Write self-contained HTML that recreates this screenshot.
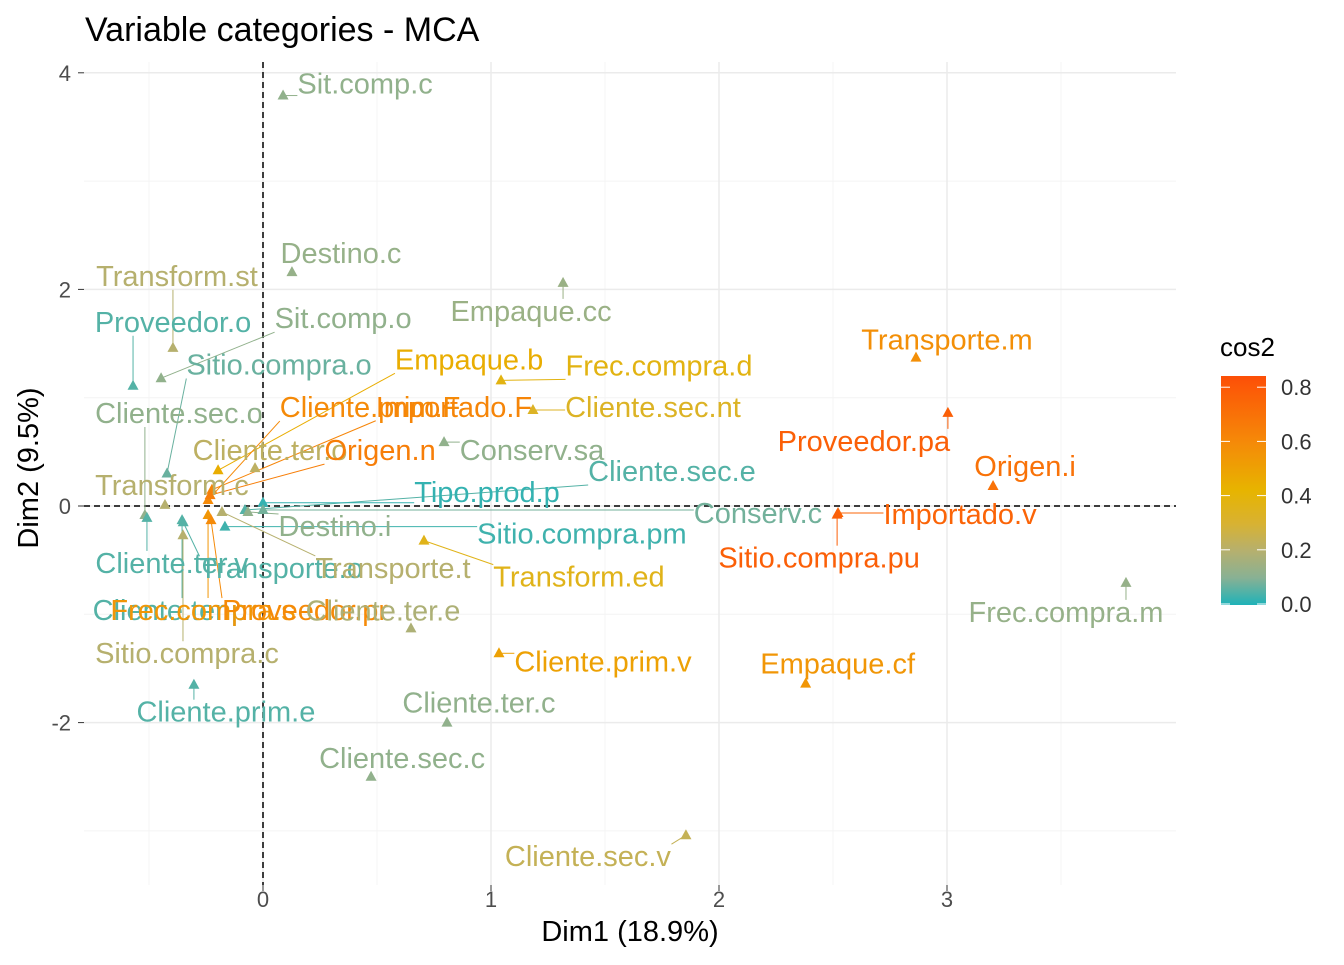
<!DOCTYPE html>
<html><head><meta charset="utf-8"><style>
body{margin:0;background:#fff;}
svg{font-family:"Liberation Sans",sans-serif;}
</style></head><body>
<svg id="chart" width="1344" height="960">
<defs><linearGradient id="lg" x1="0" y1="1" x2="0" y2="0">
<stop offset="0" stop-color="#1FB2B8"/><stop offset="0.118" stop-color="#88B194"/><stop offset="0.237" stop-color="#B6B06E"/><stop offset="0.355" stop-color="#D8B232"/><stop offset="0.5" stop-color="#E7B400"/><stop offset="0.71" stop-color="#F58A08"/><stop offset="0.947" stop-color="#FC5A07"/><stop offset="1" stop-color="#FC4E07"/>
</linearGradient></defs>
<g id="grid"></g><g id="segs"></g><g id="pts"></g><g id="labs"></g><g id="axes"></g>
<text x="85" y="41" font-size="34" fill="#000">Variable categories - MCA</text>
<text x="630" y="941" font-size="29" text-anchor="middle">Dim1 (18.9%)</text>
<text transform="translate(38,468) rotate(-90)" font-size="29" text-anchor="middle">Dim2 (9.5%)</text>
<g>
<text x="1220" y="356" font-size="26">cos2</text>
<rect x="1221" y="376" width="45" height="229" fill="url(#lg)"/>
<g id="legticks"></g>
</g>
</svg>
<script>
const names=["Sit.comp.c","Destino.c","Transform.st","Empaque.cc","Proveedor.o","Sit.comp.o","Sitio.compra.o","Empaque.b","Frec.compra.d","Cliente.prim.F","Importado.F","Cliente.sec.nt","Cliente.sec.o","Cliente.ter.o","Origen.n","Conserv.sa","Cliente.sec.e","Transform.c","Tipo.prod.p","Conserv.c","Destino.i","Sitio.compra.pm","Cliente.ter.v","Transporte.o","Transporte.t","Transform.ed","Cliente.ter.p","Frec.compra.s","Proveedor.pr","Cliente.ter.e","Sitio.compra.c","Cliente.prim.e","Cliente.ter.c","Cliente.sec.c","Cliente.sec.v","Cliente.prim.v","Empaque.cf","Frec.compra.m","Transporte.m","Proveedor.pa","Origen.i","Importado.v","Sitio.compra.pu"];
const dim1=[0.088,0.127,-0.395,1.316,-0.570,-0.447,-0.421,-0.197,1.044,-0.241,-0.224,1.184,-0.518,-0.035,-0.232,0.794,-0.079,-0.430,0.0,0.0,-0.066,-0.167,-0.509,-0.350,-0.180,0.706,-0.355,-0.241,-0.228,0.649,-0.351,-0.303,0.807,0.474,1.855,1.035,2.380,3.785,2.864,3.004,3.202,2.522,2.518];
const dim2=[3.79,2.16,1.46,2.06,1.11,1.18,0.30,0.33,1.16,0.055,0.15,0.886,-0.083,0.35,0.10,0.59,-0.037,0.01,0.03,-0.037,-0.055,-0.19,-0.11,-0.15,-0.055,-0.32,-0.13,-0.083,-0.13,-1.13,-0.27,-1.65,-2.00,-2.50,-3.04,-1.36,-1.64,-0.71,1.37,0.86,0.185,-0.065,-0.08];
const cos2=[0.12,0.13,0.2,0.14,0.05,0.12,0.07,0.45,0.38,0.6,0.62,0.33,0.12,0.22,0.65,0.12,0.05,0.2,0.02,0.08,0.12,0.03,0.05,0.05,0.2,0.36,0.05,0.55,0.6,0.18,0.2,0.05,0.12,0.12,0.24,0.5,0.55,0.13,0.58,0.78,0.7,0.76,0.78];
const xTicks=[0,1,2,3], yTicks=[-2,0,2,4], legTicks=[0,0.2,0.4,0.6,0.8];
const stopVals=[0,0.1,0.2,0.3,0.42,0.6,0.8,0.844];
const stopCols=[[31,178,184],[136,177,148],[182,176,110],[216,178,50],[231,180,0],[245,138,8],[252,90,7],[252,78,7]];
// label layout offsets (px) — repel placement
const ldx=[82,49,4,-32,40,182,112,251,158,162,242,120,34,15,170,88,427,7,224,495,87,357,25,98,171,155,-12,-5,94,-28,4,32,32,31,-98,104,32,-60,31,-84,32,122,-18];
const ldy=[-12,-19,-72,28,-64,-60,-109,-111,-15,-93,-83,-3,-102,-18,-45,8,-39,-20,-11,3,14,7,45,46,56,36,90,95,90,-18,118,27,-20,-19,21,8,-20,29,-18,28,-20,1,43];
const X=v=>263+v*228, Y=v=>506-v*108.3;
const NS="http://www.w3.org/2000/svg";
function mk(t,a,p){const e=document.createElementNS(NS,t);for(const k in a)e.setAttribute(k,a[k]);p.appendChild(e);return e;}
function col(c){c=Math.max(0,Math.min(c,0.844));let i=0;while(i<stopVals.length-2&&c>stopVals[i+1])i++;
const t=(c-stopVals[i])/(stopVals[i+1]-stopVals[i]);const a=stopCols[i],b=stopCols[i+1];
const r=a.map((v,k)=>Math.round(v+(b[k]-v)*t));return`rgb(${r[0]},${r[1]},${r[2]})`;}
const grid=document.getElementById('grid');
[-0.5,0.5,1.5,2.5,3.5].forEach(v=>{const l=mk('line',{x1:X(v),x2:X(v),y1:62,y2:885,stroke:'#F4F4F4','stroke-width':1},grid);});
[-3,-1,1,3].forEach(v=>{const l=mk('line',{x1:84,x2:1176,y1:Y(v),y2:Y(v),stroke:'#F4F4F4','stroke-width':1},grid);});
const axes=document.getElementById('axes');
xTicks.forEach(v=>{const l=mk('line',{x1:X(v),x2:X(v),y1:62,y2:885,stroke:'#EBEBEB','stroke-width':1.5},grid);
mk('line',{x1:X(v),x2:X(v),y1:885,y2:891,stroke:'#333'},axes);
const t=mk('text',{x:X(v),y:907,'font-size':22,fill:'#4D4D4D','text-anchor':'middle'},axes);t.textContent=v;});
yTicks.forEach(v=>{const l=mk('line',{x1:84,x2:1176,y1:Y(v),y2:Y(v),stroke:'#EBEBEB','stroke-width':1.5},grid);
mk('line',{x1:78,x2:84,y1:Y(v),y2:Y(v),stroke:'#333'},axes);
const t=mk('text',{x:71,y:Y(v)+8,'font-size':22,fill:'#4D4D4D','text-anchor':'end'},axes);t.textContent=v;});
let z=mk('line',{x1:X(0),x2:X(0),y1:62,y2:885,stroke:'#000','stroke-width':1.5,'stroke-dasharray':'6,4'},grid);
z=mk('line',{x1:84,x2:1176,y1:Y(0),y2:Y(0),stroke:'#000','stroke-width':1.5,'stroke-dasharray':'6,4'},grid);
const pts=document.getElementById('pts'),labs=document.getElementById('labs'),segs=document.getElementById('segs');
names.forEach((n,i)=>{const px=X(dim1[i]),py=Y(dim2[i]),c=col(cos2[i]);
const p=mk('polygon',{points:`${px},${py-6} ${px-5.5},${py+4} ${px+5.5},${py+4}`,fill:c},pts);

const t=mk('text',{x:px+ldx[i],y:py+ldy[i]+10,'font-size':29,fill:c,'text-anchor':'middle'},labs);t.textContent=n;

const b=t.getBBox();const ex=Math.max(b.x,Math.min(px,b.x+b.width)),ey=Math.max(b.y+3,Math.min(py,b.y+b.height-3));
if(Math.hypot(ex-px,ey-py)>8){const s=mk('line',{x1:px,y1:py,x2:ex,y2:ey,stroke:c,'stroke-width':1},segs);}
});
const lt=document.getElementById('legticks');
legTicks.forEach(v=>{const y=604-v*271;mk('line',{x1:1221,x2:1230,y1:y,y2:y,stroke:'#fff'},lt);mk('line',{x1:1257,x2:1266,y1:y,y2:y,stroke:'#fff'},lt);
const t=mk('text',{x:1281,y:y+8,'font-size':22,fill:'#333'},lt);t.textContent=v.toFixed(1);});
</script>
</body></html>
